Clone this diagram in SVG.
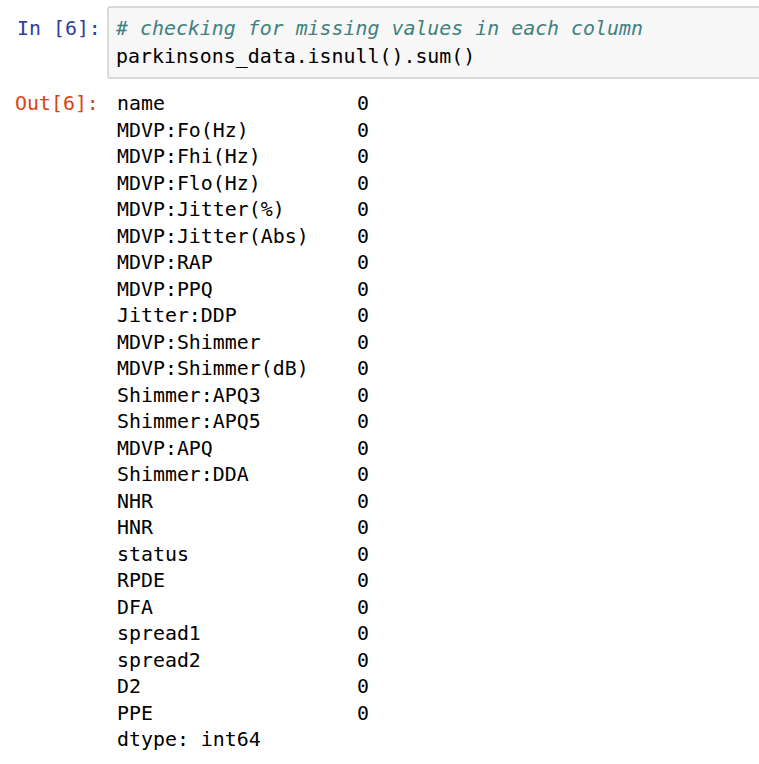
<svg xmlns="http://www.w3.org/2000/svg" width="759" height="764" viewBox="0 0 759 764">
<style>
text{font-family:"DejaVu Sans Mono","Liberation Mono",monospace;font-size:19.9px;fill:#000}
.in{fill:#303F9F}
.out{fill:#D84315}
.cm{fill:#408080;font-style:italic}
.v{}
</style>
<rect width="759" height="764" fill="#fff"/>
<g id="input-cell">
<text class="in" x="17" y="35">In [6]:</text>
<rect x="108" y="7" width="660" height="71" rx="2" fill="#f7f7f7" stroke="#cfcfcf" stroke-width="1.5"/>
<text class="cm" x="116" y="35"># checking for missing values in each column</text>
<text x="116" y="63">parkinsons_data.isnull().sum()</text>
</g>
<g id="output-cell">
<text class="out" x="15" y="110">Out[6]:</text>
<g id="labels">
<text x="117" y="110">name</text>
<text x="117" y="136.5">MDVP:Fo(Hz)</text>
<text x="117" y="163">MDVP:Fhi(Hz)</text>
<text x="117" y="189.5">MDVP:Flo(Hz)</text>
<text x="117" y="216">MDVP:Jitter(%)</text>
<text x="117" y="242.5">MDVP:Jitter(Abs)</text>
<text x="117" y="269">MDVP:RAP</text>
<text x="117" y="295.5">MDVP:PPQ</text>
<text x="117" y="322">Jitter:DDP</text>
<text x="117" y="348.5">MDVP:Shimmer</text>
<text x="117" y="375">MDVP:Shimmer(dB)</text>
<text x="117" y="401.5">Shimmer:APQ3</text>
<text x="117" y="428">Shimmer:APQ5</text>
<text x="117" y="454.5">MDVP:APQ</text>
<text x="117" y="481">Shimmer:DDA</text>
<text x="117" y="507.5">NHR</text>
<text x="117" y="534">HNR</text>
<text x="117" y="560.5">status</text>
<text x="117" y="587">RPDE</text>
<text x="117" y="613.5">DFA</text>
<text x="117" y="640">spread1</text>
<text x="117" y="666.5">spread2</text>
<text x="117" y="693">D2</text>
<text x="117" y="719.5">PPE</text>
<text x="117" y="746">dtype: int64</text>
</g>
<g id="values">
<text x="357" y="110">0</text>
<text x="357" y="136.5">0</text>
<text x="357" y="163">0</text>
<text x="357" y="189.5">0</text>
<text x="357" y="216">0</text>
<text x="357" y="242.5">0</text>
<text x="357" y="269">0</text>
<text x="357" y="295.5">0</text>
<text x="357" y="322">0</text>
<text x="357" y="348.5">0</text>
<text x="357" y="375">0</text>
<text x="357" y="401.5">0</text>
<text x="357" y="428">0</text>
<text x="357" y="454.5">0</text>
<text x="357" y="481">0</text>
<text x="357" y="507.5">0</text>
<text x="357" y="534">0</text>
<text x="357" y="560.5">0</text>
<text x="357" y="587">0</text>
<text x="357" y="613.5">0</text>
<text x="357" y="640">0</text>
<text x="357" y="666.5">0</text>
<text x="357" y="693">0</text>
<text x="357" y="719.5">0</text>
</g>
</g>
</svg>
